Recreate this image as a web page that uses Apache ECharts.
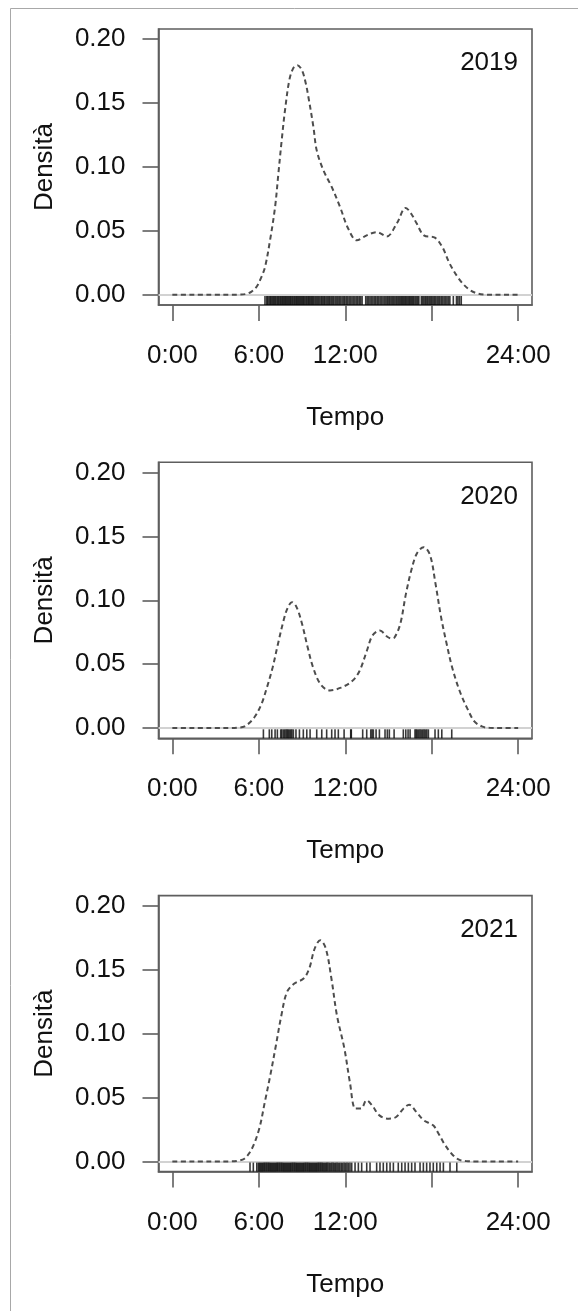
<!DOCTYPE html>
<html>
<head>
<meta charset="utf-8">
<script src="https://cdn.jsdelivr.net/npm/echarts@6/dist/echarts.min.js"></script>
<style>
html,body{margin:0;padding:0;background:#fff;}
#chart{width:578px;height:1311px;}
</style>
</head>
<body>
<div id="chart"></div>
<script>
// ---------- DATA ----------
const years = ['2019', '2020', '2021'];

const x2019 = [0, 1, 2, 3, 4, 4.6, 5.1, 5.5, 5.86, 6.15, 6.43, 6.78, 7.13, 7.36, 7.59, 7.82, 8.12, 8.4, 8.68, 9.0, 9.25, 9.44, 9.79, 10.02, 10.48, 11.06, 11.64, 12.21, 12.8, 13.49, 14.18, 14.88, 15.57, 16.2, 16.6, 16.96, 17.46, 18.22, 18.74, 19.25, 19.89, 20.53, 21.17, 21.8, 22.5, 23, 24];
const y2019 = [0, 0, 0, 0, 0, 0.0001, 0.0006, 0.0025, 0.0065, 0.013, 0.0216, 0.0426, 0.0687, 0.0949, 0.121, 0.1445, 0.168, 0.1775, 0.1797, 0.1755, 0.166, 0.155, 0.1314, 0.113, 0.0975, 0.0844, 0.0687, 0.0517, 0.0426, 0.0465, 0.049, 0.0457, 0.0557, 0.068, 0.063, 0.0557, 0.0465, 0.0447, 0.0373, 0.0243, 0.0125, 0.0047, 0.001, 0.0001, 0, 0, 0];

const x2020 = [0, 1, 2, 3, 4, 4.5, 5.02, 5.66, 6.17, 6.56, 6.95, 7.33, 7.72, 8.0, 8.3, 8.62, 9.0, 9.39, 9.77, 10.29, 10.93, 11.7, 12.48, 12.99, 13.5, 13.89, 14.4, 14.92, 15.2, 15.43, 15.82, 16.21, 16.59, 16.98, 17.44, 17.88, 18.26, 18.65, 19.04, 19.42, 19.94, 20.45, 20.96, 21.48, 22, 23, 24];
const y2020 = [0, 0, 0, 0, 0, 0.0003, 0.0013, 0.0079, 0.0184, 0.0316, 0.047, 0.0658, 0.0842, 0.094, 0.0985, 0.0947, 0.0816, 0.0632, 0.0474, 0.0342, 0.0295, 0.0316, 0.0368, 0.0447, 0.0605, 0.0724, 0.0763, 0.0715, 0.0702, 0.0711, 0.0816, 0.105, 0.1237, 0.1368, 0.1416, 0.1355, 0.1132, 0.0868, 0.0658, 0.0474, 0.029, 0.0158, 0.0053, 0.0013, 0.0002, 0, 0];

const x2021 = [0, 1, 2, 3, 4, 4.5, 5.0, 5.52, 6.03, 6.42, 6.8, 7.19, 7.57, 7.96, 8.47, 9.11, 9.5, 9.88, 10.27, 10.65, 11.04, 11.42, 11.94, 12.32, 12.71, 13.09, 13.48, 13.86, 14.37, 15.02, 15.53, 16.04, 16.43, 16.94, 17.45, 18.1, 18.48, 18.87, 19.38, 19.89, 20.4, 21, 22, 23, 24];
const y2021 = [0, 0, 0, 0, 0, 0.0004, 0.0021, 0.0099, 0.0256, 0.0465, 0.0674, 0.0909, 0.1144, 0.1326, 0.1392, 0.1431, 0.1509, 0.1666, 0.1731, 0.1666, 0.1431, 0.1144, 0.0883, 0.0621, 0.0413, 0.0413, 0.0478, 0.0439, 0.036, 0.0334, 0.0347, 0.0413, 0.0444, 0.0386, 0.0321, 0.0282, 0.0217, 0.0138, 0.006, 0.0013, 0.0002, 0, 0, 0, 0];

// observed times (hours) shown as rug marks
const rug2019 = [6.43, 6.55, 6.62, 6.71, 6.79, 6.86, 6.95, 7.02, 7.1, 7.17, 7.26, 7.33, 7.4, 7.48, 7.55, 7.63, 7.7, 7.78, 7.85, 7.92, 8.0, 8.07, 8.15, 8.22, 8.3, 8.37, 8.45, 8.52, 8.6, 8.67, 8.75, 8.82, 8.9, 8.97, 9.05, 9.12, 9.2, 9.28, 9.35, 9.43, 9.5, 9.58, 9.66, 9.73, 9.81, 9.9, 9.98, 10.07, 10.15, 10.24, 10.33, 10.41, 10.5, 10.58, 10.67, 10.76, 10.85, 10.93, 11.02, 11.11, 11.2, 11.3, 11.4, 11.49, 11.58, 11.68, 11.78, 11.88, 11.97, 12.07, 12.17, 12.27, 12.37, 12.47, 12.57, 12.67, 12.77, 12.87, 12.97, 13.07, 13.17, 13.42, 13.52, 13.62, 13.72, 13.82, 13.92, 14.02, 14.12, 14.22, 14.32, 14.42, 14.52, 14.62, 14.72, 14.82, 14.91, 15.0, 15.09, 15.18, 15.27, 15.36, 15.45, 15.54, 15.63, 15.72, 15.8, 15.88, 15.96, 16.04, 16.12, 16.2, 16.28, 16.36, 16.44, 16.52, 16.6, 16.68, 16.76, 16.85, 16.94, 17.03, 17.11, 17.28, 17.37, 17.46, 17.55, 17.64, 17.73, 17.82, 17.91, 18.0, 18.09, 18.18, 18.27, 18.37, 18.46, 18.56, 18.66, 18.76, 18.86, 18.96, 19.06, 19.16, 19.26, 19.5, 19.72, 19.82, 19.93, 20.05];
const rug2020 = [6.32, 6.73, 6.9, 7.13, 7.29, 7.52, 7.6, 7.71, 7.8, 7.89, 7.97, 8.05, 8.13, 8.22, 8.3, 8.4, 8.58, 8.82, 9.09, 9.33, 9.56, 10.02, 10.37, 10.71, 11.06, 11.29, 11.52, 11.92, 12.38, 12.42, 13.21, 13.49, 13.77, 13.86, 13.95, 14.14, 14.37, 14.76, 14.92, 15.06, 15.39, 16.03, 16.2, 16.36, 16.5, 16.84, 16.92, 17.0, 17.1, 17.19, 17.28, 17.38, 17.47, 17.56, 17.66, 17.77, 18.23, 18.46, 18.7, 19.39];
const rug2021 = [5.39, 5.62, 5.86, 5.97, 6.05, 6.12, 6.2, 6.27, 6.35, 6.42, 6.5, 6.57, 6.65, 6.72, 6.8, 6.87, 6.95, 7.02, 7.1, 7.17, 7.25, 7.32, 7.4, 7.47, 7.55, 7.62, 7.7, 7.77, 7.85, 7.92, 8.0, 8.07, 8.15, 8.22, 8.3, 8.37, 8.45, 8.52, 8.6, 8.67, 8.75, 8.82, 8.9, 8.97, 9.05, 9.12, 9.2, 9.27, 9.35, 9.42, 9.5, 9.57, 9.65, 9.72, 9.8, 9.87, 9.95, 10.02, 10.1, 10.17, 10.25, 10.32, 10.4, 10.48, 10.56, 10.64, 10.72, 10.8, 10.89, 10.98, 11.07, 11.16, 11.25, 11.34, 11.43, 11.52, 11.62, 11.72, 11.82, 11.92, 12.02, 12.12, 12.22, 12.33, 12.45, 12.68, 12.91, 13.14, 13.49, 13.72, 14.18, 14.41, 14.64, 14.88, 15.11, 15.34, 15.68, 15.92, 16.15, 16.38, 16.61, 16.84, 17.19, 17.42, 17.65, 17.88, 18.11, 18.35, 18.58, 18.81, 19.27, 19.74];

const xTickValues = [0, 6, 12, 18, 24];
const xLabelValues = [0, 6, 12, 24];
const yTickValues = [0, 0.05, 0.10, 0.15, 0.20];

// ---------- CHART ----------
const xs = [x2019, x2020, x2021];
const ys = [y2019, y2020, y2021];
const rugs = [rug2019, rug2020, rug2021];

const FONT = "'Liberation Sans', Arial, sans-serif";
const FS = 26;
const STEP = 433.3;
const GRID_TOP = 29, GRID_H = 276, GRID_L = 158.5, GRID_W = 373.5;
const BOX = '#5e5e5e';

const grids = [], xAxes = [], yAxes = [], series = [], graphics = [];

years.forEach((yr, k) => {
  grids.push({
    left: GRID_L, top: GRID_TOP + k * STEP, width: GRID_W, height: GRID_H,
    show: true, borderColor: BOX, borderWidth: 1.6, backgroundColor: 'transparent'
  });
  xAxes.push({
    type: 'value', gridIndex: k, min: -0.96, max: 24.96,
    name: 'Tempo', nameLocation: 'middle', nameGap: 100,
    nameTextStyle: { fontFamily: FONT, fontSize: FS, color: '#111' },
    axisLine: { show: true, onZero: false, lineStyle: { color: BOX, width: 1.6 } },
    axisTick: { show: true, length: 16, customValues: xTickValues, lineStyle: { color: BOX, width: 1.6 } },
    axisLabel: { show: true, margin: 38, customValues: xLabelValues,
      formatter: v => Math.round(v) + ':00',
      fontFamily: FONT, fontSize: FS, color: '#111' },
    splitLine: { show: false }
  });
  yAxes.push({
    type: 'value', gridIndex: k, min: -0.008, max: 0.208,
    name: 'Densità', nameLocation: 'middle', nameGap: 101,
    nameTextStyle: { fontFamily: FONT, fontSize: FS, color: '#111' },
    axisLine: { show: true, onZero: false, lineStyle: { color: BOX, width: 1.6 } },
    axisTick: { show: true, length: 16, customValues: yTickValues, lineStyle: { color: BOX, width: 1.6 } },
    axisLabel: { show: true, margin: 33, customValues: yTickValues,
      formatter: v => v.toFixed(2),
      fontFamily: FONT, fontSize: FS, color: '#111' },
    splitLine: { show: false }
  });
  series.push({
    type: 'line', xAxisIndex: k, yAxisIndex: k,
    data: xs[k].map((h, i) => [h, ys[k][i]]),
    showSymbol: false, symbol: 'none', smooth: 0.35,
    lineStyle: { color: '#4d4d4d', width: 2, type: [5, 3.5] },
    z: 3,
    markLine: {
      silent: true, symbol: 'none', label: { show: false },
      lineStyle: { color: '#d2d2d2', width: 1.8, type: 'solid' },
      data: [{ yAxis: 0 }], z: 1, animation: false
    },
    animation: false
  });
  series.push({
    type: 'custom', xAxisIndex: k, yAxisIndex: k,
    data: rugs[k].map(h => [h, 0]),
    encode: { x: 0, y: 1 },
    renderItem: (params, api) => {
      const px = api.coord([api.value(0), 0])[0];
      const bottom = params.coordSys.y + params.coordSys.height;
      return {
        type: 'line',
        shape: { x1: px, y1: bottom, x2: px, y2: bottom - 9 },
        style: { stroke: 'rgba(0,0,0,0.78)', lineWidth: 1.6 }
      };
    },
    z: 4, animation: false
  });
  graphics.push({
    type: 'text', x: 518, y: 63.3 + k * STEP,
    style: { text: yr, align: 'right', verticalAlign: 'middle',
      fontFamily: FONT, fontSize: FS, fill: '#111' }
  });
});

// outer frame
graphics.push({ type: 'line', shape: { x1: 10.5, y1: 8.5, x2: 10.5, y2: 1311 }, style: { stroke: '#a8a8a8', lineWidth: 1 } });
graphics.push({ type: 'line', shape: { x1: 10.5, y1: 8.5, x2: 578, y2: 8.5 }, style: { stroke: '#a8a8a8', lineWidth: 1 } });

const chart = echarts.init(document.getElementById('chart'), null, { renderer: 'canvas' });
chart.setOption({
  animation: false,
  backgroundColor: '#ffffff',
  grid: grids, xAxis: xAxes, yAxis: yAxes, series: series, graphic: graphics
});
</script>
</body>
</html>
